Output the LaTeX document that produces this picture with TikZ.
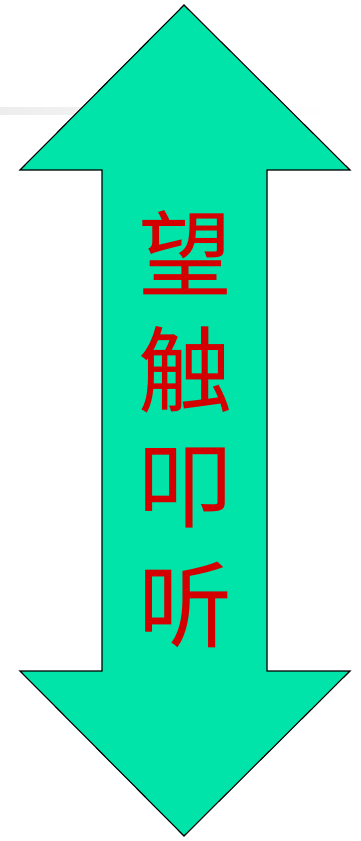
\documentclass[tikz,border=0pt]{standalone}
\usepackage{fontspec}
\newfontfamily\cjk{Noto Sans CJK SC}
\definecolor{arrowgreen}{HTML}{00E3A9}
\definecolor{textred}{HTML}{D40000}
\begin{document}
\begin{tikzpicture}[x=1pt,y=-1pt,
  chr/.style={text=textred,font=\cjk\fontsize{94}{94}\selectfont,inner sep=0pt,anchor=center}]
\useasboundingbox (0,0) rectangle (360,841);
\shade[left color=gray!14,right color=white] (0,107) rectangle (330,114);
\draw[fill=arrowgreen,line width=1.1pt,line join=miter]
  (184,5) -- (350,170) -- (267,170) -- (267,671) -- (350,671) -- (184,836)
  -- (20,671) -- (102,671) -- (102,170) -- (20,170) -- cycle;
\node[chr] (c1) at (185,253) {望};
\node[chr] (c2) at (185,370) {触};
\node[chr] (c3) at (185,488) {叩};
\node[chr] (c4) at (185,605) {听};
\end{tikzpicture}
\end{document}
